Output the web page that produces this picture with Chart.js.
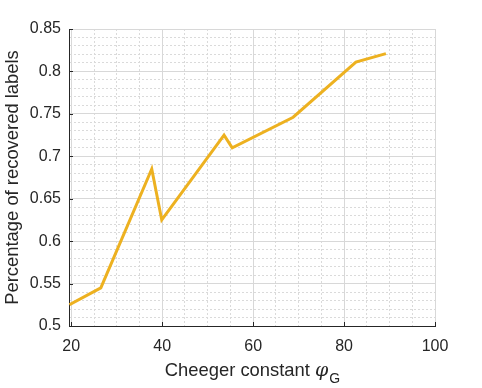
<!DOCTYPE html>
<html>
<head>
<meta charset="utf-8">
<script src="https://cdn.jsdelivr.net/npm/chart.js@4.4.0/dist/chart.umd.min.js"></script>
<style>
  html, body { margin: 0; padding: 0; background: #fff; }
  #wrap { width: 482px; height: 388px; }
</style>
</head>
<body>
<div id="wrap"><canvas id="chart" width="482" height="388"></canvas></div>
<script>
"use strict";

// values
const cheeger = [19.6, 26.5, 37.7, 39.9, 53.6, 55.4, 68.8, 82.6, 89.2];
const recovered = [0.525, 0.545, 0.685, 0.625, 0.725, 0.71, 0.746, 0.811, 0.821];
const xTicks = [20, 40, 60, 80, 100];
const yTicks = [0.5, 0.55, 0.6, 0.65, 0.7, 0.75, 0.8, 0.85];
const xTitle = 'Cheeger constant ';
const yTitle = 'Percentage of recovered labels';

const FONT = 'Liberation Sans';
const TXT = '#262626';

function isMajor(list, v) {
  return list.some(t => Math.abs(t - v) < 1e-9);
}

// minor grid steps: 5 on x, 0.01 on y
function minorTicks(from, to, step) {
  const out = [];
  const n = Math.round((to - from) / step);
  for (let i = 0; i <= n; i++) out.push({ value: +(from + i * step).toFixed(4) });
  return out;
}

// x title with phi_G, plus small inside tick marks like matlab
const extras = {
  id: 'extras',
  afterDraw(chart) {
    const ctx = chart.ctx;
    const area = chart.chartArea;
    const xs = chart.scales.x, ys = chart.scales.y;

    ctx.save();
    ctx.strokeStyle = TXT;
    ctx.lineWidth = 1;
    ctx.beginPath();
    xTicks.forEach(t => {
      const px = Math.round(xs.getPixelForValue(t)) + 0.5;
      ctx.moveTo(px, area.bottom);
      ctx.lineTo(px, area.bottom - 4);
    });
    yTicks.forEach(t => {
      const py = Math.round(ys.getPixelForValue(t)) + 0.5;
      ctx.moveTo(area.left, py);
      ctx.lineTo(area.left + 4, py);
    });
    ctx.stroke();

    // "Cheeger constant φ_G"
    const base = 376;
    const main = '18.4px "' + FONT + '"';
    const phi = 'italic 19px "DejaVu Serif"';
    const sub = '14px "' + FONT + '"';
    ctx.fillStyle = TXT;
    ctx.textBaseline = 'alphabetic';
    ctx.textAlign = 'left';
    ctx.font = main;
    const w1 = ctx.measureText(xTitle).width;
    ctx.font = phi;
    const w2 = ctx.measureText('\u03c6').width;
    ctx.font = sub;
    const w3 = ctx.measureText('G').width;
    const x0 = (area.left + area.right) / 2 - (w1 + w2 + w3) / 2;
    ctx.font = main;
    ctx.fillText(xTitle, x0, base);
    ctx.font = phi;
    ctx.fillText('\u03c6', x0 + w1, base);
    ctx.font = sub;
    ctx.fillText('G', x0 + w1 + w2 + 1, base + 7);
    ctx.restore();
  }
};

function gridOpts(list) {
  return {
    color: c => isMajor(list, c.tick.value) ? '#d8d8d8' : '#dadada',
    lineWidth: 1,
    drawTicks: false
  };
}

function borderOpts(list) {
  return {
    display: true,
    color: TXT,
    width: 1,
    dash: c => (c.tick && !isMajor(list, c.tick.value)) ? [2, 2] : []
  };
}

const chart = new Chart(document.getElementById('chart'), {
  type: 'line',
  data: {
    datasets: [{
      data: cheeger.map((x, i) => ({ x: x, y: recovered[i] })),
      borderColor: '#EDB120',
      borderWidth: 3,
      pointRadius: 0,
      fill: false,
      tension: 0
    }]
  },
  options: {
    responsive: false,
    animation: false,
    devicePixelRatio: 1,
    layout: { padding: { left: 0, top: 29, right: 47, bottom: 0 } },
    plugins: { legend: { display: false }, tooltip: { enabled: false } },
    scales: {
      x: {
        type: 'linear',
        min: 19.5,
        max: 100,
        afterBuildTicks: s => { s.ticks = minorTicks(20, 100, 5); },
        afterFit: s => { s.height = 62; },
        grid: gridOpts(xTicks),
        border: borderOpts(xTicks),
        ticks: {
          autoSkip: false,
          maxRotation: 0,
          padding: 11,
          color: TXT,
          font: { family: FONT, size: 16 },
          callback: v => isMajor(xTicks, v) ? String(v) : ''
        }
      },
      y: {
        min: 0.5,
        max: 0.85,
        afterBuildTicks: s => { s.ticks = minorTicks(0.5, 0.85, 0.01); },
        afterFit: s => { s.width = 69; },
        grid: gridOpts(yTicks),
        border: borderOpts(yTicks),
        title: {
          display: true,
          text: yTitle,
          color: TXT,
          font: { family: FONT, size: 18.4 },
          padding: { top: 2, bottom: 0 }
        },
        ticks: {
          autoSkip: false,
          padding: 8,
          color: TXT,
          font: { family: FONT, size: 16 },
          callback: v => isMajor(yTicks, v) ? String(+v.toFixed(2)) : ''
        }
      }
    }
  },
  plugins: [extras]
});
</script>
</body>
</html>
